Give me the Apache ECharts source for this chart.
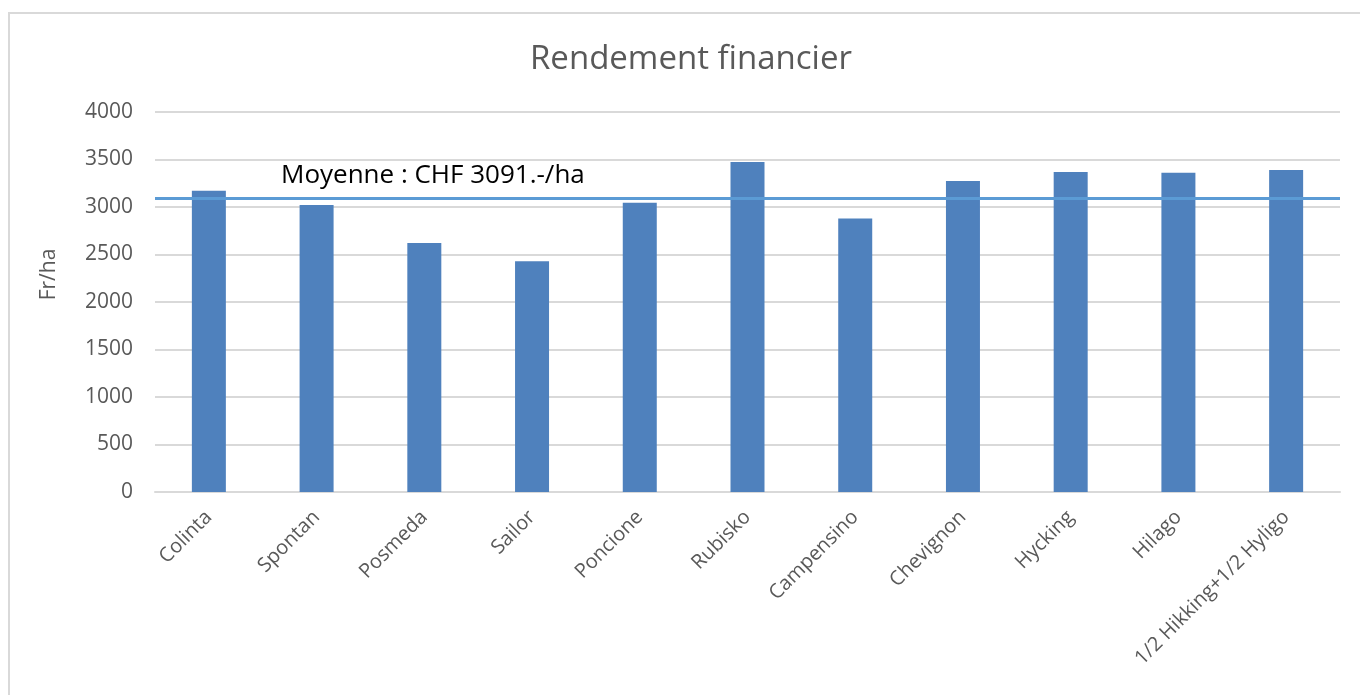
<!DOCTYPE html>
<html lang="fr">
<head>
    <meta charset="UTF-8">
    <title>Rendement financier</title>
    <script src="https://cdn.jsdelivr.net/npm/echarts@6/dist/echarts.min.js"></script>
    <style>
        body { margin: 0; background: #fff; }
        #main { width: 1360px; height: 695px; }
    </style>
</head>
<body>
    <div id="main"></div>
    <script>
        // données
        var varietes = ['Colinta', 'Spontan', 'Posmeda', 'Sailor', 'Poncione', 'Rubisko',
            'Campensino', 'Chevignon', 'Hycking', 'Hilago', '1/2 Hikking+1/2 Hyligo'];
        var rendement = [3170, 3020, 2620, 2430, 3045, 3475, 2880, 3275, 3368, 3360, 3390];
        var moyenne = 3091;
        var moyenneTexte = 'Moyenne : CHF 3091.-/ha';

        var myChart = echarts.init(document.getElementById('main'));

        var option = {
            backgroundColor: '#fff',
            textStyle: { fontFamily: 'Open Sans' },
            title: {
                text: 'Rendement financier',
                left: 525,
                top: 38,
                textStyle: { fontSize: 33, fontWeight: 'normal', color: '#595959' }
            },
            graphic: [{
                type: 'rect',
                shape: { x: 9, y: 13, width: 1400, height: 720 },
                style: { fill: 'none', stroke: '#d9d9d9', lineWidth: 2 },
                silent: true
            }],
            grid: { left: 155, right: 20, top: 112, bottom: 203 },
            xAxis: {
                type: 'category',
                data: varietes,
                axisLine: { lineStyle: { color: '#d9d9d9', width: 2 } },
                axisTick: { show: false },
                axisLabel: { rotate: 45, margin: 22, fontSize: 20, color: '#595959', interval: 0 }
            },
            yAxis: {
                type: 'value',
                min: 0,
                max: 4000,
                interval: 500,
                name: 'Fr/ha',
                nameLocation: 'middle',
                nameRotate: 90,
                nameGap: 95,
                nameTextStyle: { fontSize: 21, color: '#595959', padding: [0, 0, 0, 55] },
                axisLine: { show: false },
                axisTick: { show: false },
                axisLabel: {
                    fontSize: 21, color: '#595959', margin: 22,
                    formatter: function (v) { return String(v); }
                },
                splitLine: { lineStyle: { color: '#d9d9d9', width: 2 } }
            },
            series: [{
                type: 'bar',
                data: rendement,
                barWidth: 34,
                itemStyle: { color: '#4f81bd' },
                markLine: {
                    silent: true,
                    symbol: 'none',
                    lineStyle: { color: '#5b9bd5', width: 3, type: 'solid' },
                    label: {
                        show: true,
                        position: 'insideStartTop',
                        formatter: moyenneTexte,
                        color: '#000',
                        fontSize: 26,
                        distance: 10,
                        padding: [0, 0, 0, 116]
                    },
                    data: [{ yAxis: moyenne }]
                }
            }]
        };

        myChart.setOption(option);
    </script>
</body>
</html>
